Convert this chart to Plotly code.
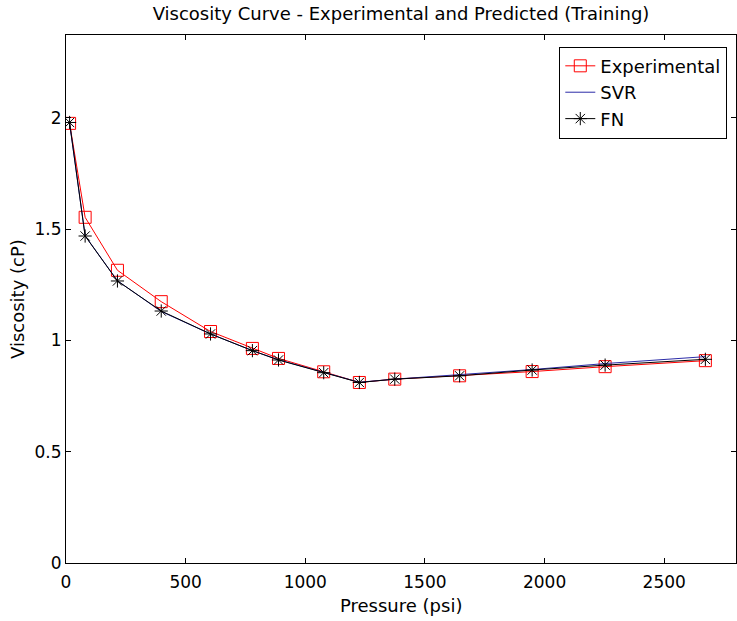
import plotly.graph_objects as go

pressure = [15, 80, 215, 398, 604, 779, 888, 1077, 1226, 1374, 1645, 1948, 2253, 2672]
experimental = [1.975, 1.553, 1.315, 1.174, 1.040, 0.964, 0.919, 0.859, 0.811, 0.826, 0.841, 0.860, 0.882, 0.909]
svr = [1.975, 1.470, 1.268, 1.130, 1.029, 0.954, 0.913, 0.856, 0.812, 0.826, 0.845, 0.869, 0.896, 0.927]
fn = [1.979, 1.469, 1.267, 1.132, 1.029, 0.954, 0.912, 0.855, 0.811, 0.826, 0.841, 0.867, 0.889, 0.915]

x_ticks = [0, 500, 1000, 1500, 2000, 2500]
y_ticks = [0, 0.5, 1, 1.5, 2]

FONT = "DejaVu Sans, Verdana, sans-serif"

fig = go.Figure()
fig.add_trace(go.Scatter(
    x=pressure, y=experimental, name="Experimental", mode="lines+markers",
    line=dict(color="#ff0000", width=1),
    marker=dict(symbol="square-open", size=12, color="#ff0000", line=dict(width=1, color="#ff0000")),
))
fig.add_trace(go.Scatter(
    x=pressure, y=svr, name="SVR", mode="lines",
    line=dict(color="#2b2ba8", width=1),
))
fig.add_trace(go.Scatter(
    x=pressure, y=fn, name="FN", mode="lines+markers",
    line=dict(color="#000000", width=1),
    marker=dict(symbol="asterisk-open", size=11, color="#000000", line=dict(width=1, color="#000000")),
))

axis_common = dict(
    showline=True, linecolor="black", linewidth=1, mirror="ticks",
    ticks="inside", ticklen=5, tickcolor="black", tickwidth=1,
    showgrid=False, zeroline=False, automargin=False,
    tickfont=dict(family=FONT, size=17, color="black"),
)

fig.update_layout(
    width=737, height=621,
    margin=dict(l=66, r=1, t=35, b=58),
    paper_bgcolor="white", plot_bgcolor="white",
    font=dict(family=FONT, size=17, color="black"),
    title=dict(text="Viscosity Curve - Experimental and Predicted (Training)",
               x=0.5, xref="paper", xanchor="center",
               y=1 - 14 / 621, yref="container", yanchor="middle",
               font=dict(family=FONT, size=18, color="black")),
    xaxis=dict(range=[0, 2800], tickvals=x_ticks, ticklabelstandoff=4, **axis_common),
    yaxis=dict(range=[0, 2.372], tickvals=y_ticks, **axis_common),
    legend=dict(x=0.987, y=0.978, xanchor="right", yanchor="top",
                bordercolor="black", borderwidth=1, bgcolor="white",
                font=dict(family=FONT, size=18, color="black"),
                tracegroupgap=0),
    showlegend=True,
    annotations=[
        dict(text="Pressure (psi)", xref="paper", yref="paper", x=0.5,
             y=-(605 - 563) / 528, xanchor="center", yanchor="middle",
             showarrow=False, font=dict(family=FONT, size=18, color="black")),
        dict(text="Viscosity (cP)", xref="paper", yref="paper",
             x=-(66 - 17) / 670, y=0.5, xanchor="center", yanchor="middle",
             textangle=-90, showarrow=False,
             font=dict(family=FONT, size=18, color="black")),
    ],
)

fig.write_html("out.html", config={"displayModeBar": False},
               post_script="document.body.style.margin='0';document.body.style.overflow='hidden';")
